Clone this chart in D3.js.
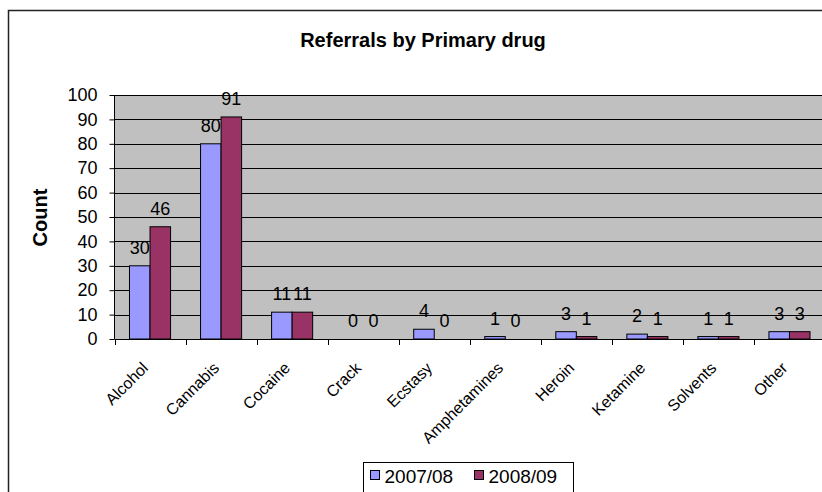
<!DOCTYPE html>
<html>
<head>
<meta charset="utf-8">
<script src="https://cdn.jsdelivr.net/npm/d3@7/dist/d3.min.js"></script>
<style>
  html, body { margin: 0; padding: 0; background: #fff; }
  svg { display: block; font-family: "Liberation Sans", Arial, sans-serif; }
</style>
</head>
<body>
<svg id="chart" width="822" height="492"></svg>
<script>
// Referral counts per primary drug, two reporting years
const categories = ["Alcohol", "Cannabis", "Cocaine", "Crack", "Ecstasy",
  "Amphetamines", "Heroin", "Ketamine", "Solvents", "Other"];
const seriesNames = ["2007/08", "2008/09"];
const values2007 = [30, 80, 11, 0, 4, 1, 3, 2, 1, 3];
const values2008 = [46, 91, 11, 0, 0, 0, 1, 1, 1, 3];
const yTicks = [0, 10, 20, 30, 40, 50, 60, 70, 80, 90, 100];
const colors = ["#9999ff", "#993366"];

const svg = d3.select("#chart");
const plot = { left: 114.5, right: 825, top: 95, bottom: 339 };

// outer chart frame (extends past the right and bottom edges)
svg.append("rect")
  .attr("x", 8.5).attr("y", 10.5)
  .attr("width", 840).attr("height", 520)
  .attr("fill", "#fff").attr("stroke", "#222").attr("stroke-width", 1.5);

svg.append("text")
  .attr("x", 423).attr("y", 47)
  .attr("text-anchor", "middle")
  .attr("font-size", 20).attr("font-weight", "bold")
  .text("Referrals by Primary drug");

const x = d3.scaleBand().domain(categories).range([plot.left, plot.right]).padding(0);
const xs = d3.scaleBand().domain(seriesNames).range([0, x.bandwidth()])
  .paddingInner(0).paddingOuter(0.73);
const y = d3.scaleLinear().domain([0, 100]).range([plot.bottom, plot.top]);

// plot background
svg.append("rect")
  .attr("x", plot.left).attr("y", plot.top)
  .attr("width", plot.right - plot.left).attr("height", plot.bottom - plot.top)
  .attr("fill", "#c0c0c0");

// horizontal gridlines
svg.append("g").selectAll("line").data(yTicks.filter(d => d > 0)).join("line")
  .attr("x1", plot.left).attr("x2", plot.right)
  .attr("y1", d => Math.round(y(d)) + 0.5).attr("y2", d => Math.round(y(d)) + 0.5)
  .attr("stroke", "#000").attr("stroke-width", 1);

// bars
const rows = categories.map((c, i) => ({ cat: c, vals: [values2007[i], values2008[i]] }));
const groups = svg.append("g").selectAll("g").data(rows).join("g")
  .attr("transform", d => `translate(${x(d.cat)},0)`);

groups.selectAll("rect").data(d => d.vals.map((v, k) => ({ v, k })))
  .join("rect")
  .filter(d => d.v > 0)
  .attr("x", d => xs(seriesNames[d.k]))
  .attr("y", d => y(d.v))
  .attr("width", xs.bandwidth())
  .attr("height", d => y(0) - y(d.v))
  .attr("fill", d => colors[d.k])
  .attr("stroke", "#000").attr("stroke-width", 1);

// value labels
groups.selectAll("text").data(d => d.vals.map((v, k) => ({ v, k })))
  .join("text")
  .attr("x", d => xs(seriesNames[d.k]) + xs.bandwidth() / 2)
  .attr("y", d => y(d.v) - 12)
  .attr("text-anchor", "middle")
  .attr("font-size", 18)
  .text(d => d.v);

// y axis
const yAxis = d3.axisLeft(y).tickValues(yTicks).tickSize(5).tickPadding(12);
const gy = svg.append("g").attr("transform", `translate(${plot.left},0)`).call(yAxis);
gy.select(".domain").attr("stroke", "#000").attr("d", `M0,${plot.top}V${plot.bottom}`);
gy.selectAll(".tick line").attr("stroke", "#000");
gy.selectAll(".tick text").attr("font-size", 18).attr("fill", "#000")
  .attr("font-family", "Liberation Sans, Arial, sans-serif");

// x axis with boundary ticks
svg.append("line")
  .attr("x1", plot.left).attr("x2", plot.right)
  .attr("y1", plot.bottom + 0.5).attr("y2", plot.bottom + 0.5)
  .attr("stroke", "#000");
svg.append("g").selectAll("line").data(categories).join("line")
  .attr("x1", d => Math.round(x(d)) + 0.5).attr("x2", d => Math.round(x(d)) + 0.5)
  .attr("y1", plot.bottom).attr("y2", plot.bottom + 6)
  .attr("stroke", "#000");

svg.append("g").selectAll("text").data(categories).join("text")
  .attr("transform", d => `translate(${x(d) + x.bandwidth() / 2 - 1},${plot.bottom + 30}) rotate(-45)`)
  .attr("text-anchor", "end")
  .attr("font-size", 16)
  .text(d => d);

// y axis title
svg.append("text")
  .attr("transform", `translate(47,217.5) rotate(-90)`)
  .attr("text-anchor", "middle")
  .attr("font-size", 20).attr("font-weight", "bold")
  .text("Count");

// legend
const legend = svg.append("g").attr("transform", "translate(363.5,462.5)");
legend.append("rect").attr("width", 210).attr("height", 40)
  .attr("fill", "#fff").attr("stroke", "#000");
const items = legend.selectAll("g").data(seriesNames).join("g")
  .attr("transform", (d, i) => `translate(${7 + i * 104},0)`);
items.append("rect").attr("x", 0).attr("y", 8).attr("width", 9).attr("height", 9)
  .attr("fill", (d, i) => colors[i]).attr("stroke", "#000");
items.append("text").attr("x", 14).attr("y", 20.5).attr("font-size", 19).text(d => d);
</script>
</body>
</html>
